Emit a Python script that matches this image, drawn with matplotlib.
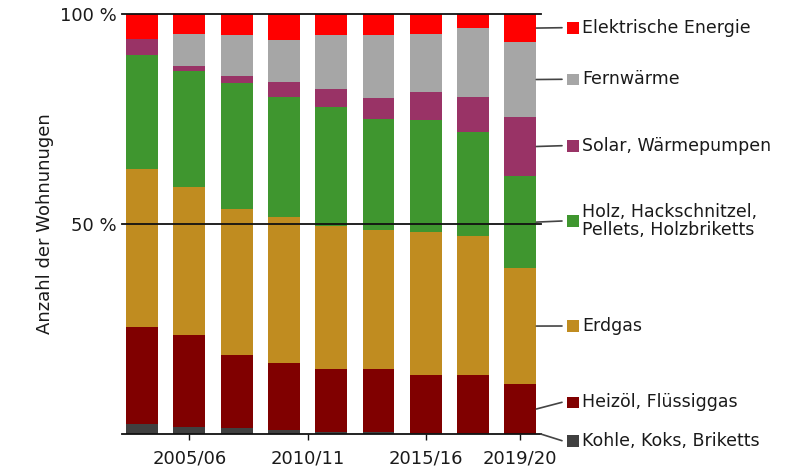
import matplotlib
matplotlib.use("Agg")
import matplotlib.pyplot as plt
import numpy as np
from matplotlib.patches import Rectangle

plt.rcParams['font.family'] = ['DejaVu Sans']

years = [2003, 2005, 2007, 2009, 2011, 2013, 2015, 2017, 2019]
tick_years = [2005, 2010, 2015, 2019]
tick_labels = ["2005/06", "2010/11", "2015/16", "2019/20"]

# shares in percent (bottom to top)
kohle      = [2.4, 1.7, 1.4, 0.95, 0.5, 0.5, 0.2, 0.2, 0.0]
heizoel    = [23.1, 21.9, 17.4, 15.95, 15.0, 15.0, 13.8, 13.8, 11.9]
erdgas     = [37.6, 35.2, 34.8, 34.8, 34.0, 33.1, 34.1, 33.1, 27.6]
holz       = [27.1, 27.6, 30.0, 28.5, 28.4, 26.4, 26.7, 24.8, 21.9]
solar      = [3.8, 1.2, 1.6, 3.7, 4.2, 5.0, 6.6, 8.3, 14.1]
fernwaerme = [0.0, 7.7, 9.8, 9.9, 12.9, 15.0, 13.9, 16.5, 17.8]
elektrisch = [6.0, 4.7, 5.0, 6.2, 5.0, 5.0, 4.7, 3.3, 6.7]

series = [kohle, heizoel, erdgas, holz, solar, fernwaerme, elektrisch]
names = ["Kohle, Koks, Briketts", "Heizöl, Flüssiggas", "Erdgas",
         "Holz, Hackschnitzel,\nPellets, Holzbriketts", "Solar, Wärmepumpen",
         "Fernwärme", "Elektrische Energie"]
colors = ["#404040", "#800000", "#c08c20", "#3f962f", "#993366", "#a6a6a6", "#ff0000"]

W, H = 809, 474
fig = plt.figure(figsize=(W / 100, H / 100), dpi=100)
ax = fig.add_axes([122 / W, 40 / H, 418.7 / W, 420 / H])

bw = 1.35
bottom = np.zeros(len(years))
mids_last = []
for vals, c in zip(series, colors):
    v = np.array(vals)
    ax.bar(years, v, bottom=bottom, width=bw, color=c, edgecolor='none', zorder=2)
    mids_last.append(bottom[-1] + v[-1] / 2)
    bottom = bottom + v

ax.set_xlim(2002.15, 2019.86)
ax.set_ylim(0, 100)

for s in ['top', 'right', 'left']:
    ax.spines[s].set_visible(False)
ax.spines['bottom'].set_linewidth(1.3)
ax.spines['bottom'].set_color('#111111')

ax.set_xticks(tick_years)
ax.set_xticklabels(tick_labels, fontsize=13, color='#1a1a1a')
ax.tick_params(axis='x', direction='out', length=4.5, width=1, color='#111111', pad=7)
ax.set_yticks([50, 100])
ax.set_yticklabels(["50 %", "100 %"], fontsize=13, color='#1a1a1a')
ax.tick_params(axis='y', length=0, pad=4)
for yv in [50, 100]:
    ax.axhline(yv, color='#111111', lw=1.3, zorder=3, clip_on=False)

ax.set_ylabel("Anzahl der Wohnunugen", fontsize=13, color='#1a1a1a', labelpad=4)

# legend with leader lines
label_y_img = [440.7, 402.3, 326, 221, 145.7, 79.3, 27.7]
x_bar_right = years[-1] + bw / 2
for i, (name, c, ly, my) in enumerate(zip(names, colors, label_y_img, mids_last)):
    yfig = H - ly
    if i == 0:
        start = (ax.get_xlim()[1], 0)
    else:
        start = (x_bar_right, my)
    ax.annotate('', xy=(562, yfig), xycoords='figure pixels',
                xytext=start, textcoords='data',
                arrowprops=dict(arrowstyle='-', color='#444444', lw=1.2,
                                shrinkA=0, shrinkB=0), annotation_clip=False)
    fig.add_artist(Rectangle(((566.7) / W, (yfig - 5.8) / H), 12 / W, 11.6 / H,
                             transform=fig.transFigure, color=c, lw=0))
    fig.text(582 / W, yfig / H, name, fontsize=12.5, color='#1a1a1a',
             va='center', ha='left', linespacing=1.05)

fig.savefig("out.png", dpi=100)
